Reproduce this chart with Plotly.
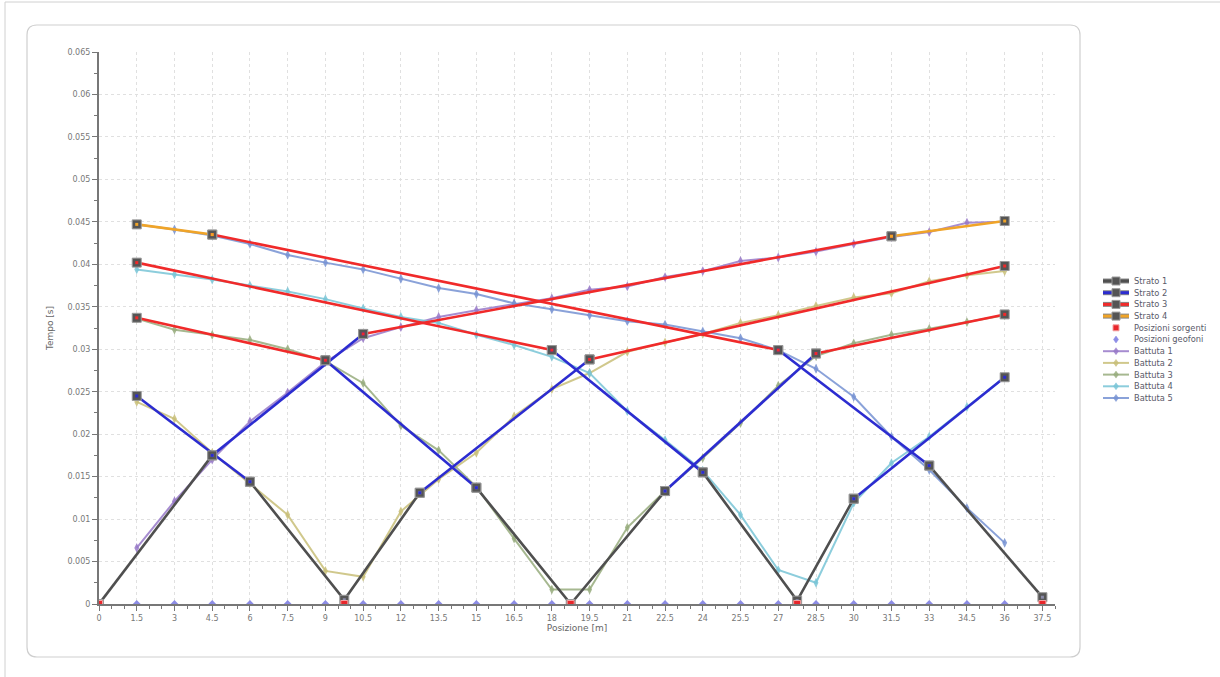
import plotly.graph_objects as go

# ---------------- data ----------------
geophones = [1.5, 3, 4.5, 6, 7.5, 9, 10.5, 12, 13.5, 15, 16.5, 18, 19.5, 21, 22.5,
             24, 25.5, 27, 28.5, 30, 31.5, 33, 34.5, 36]
sources = [0, 9.75, 18.75, 27.75, 37.5]

battuta_names = ["Battuta 1", "Battuta 2", "Battuta 3", "Battuta 4", "Battuta 5"]
battuta_1 = [0.0066, 0.0121, 0.0170, 0.0215, 0.0249, 0.0285, 0.0313, 0.0326, 0.0338, 0.0346,
             0.0353, 0.0360, 0.0370, 0.0374, 0.0385, 0.0392, 0.0404, 0.0408, 0.0415, 0.0424,
             0.0432, 0.0438, 0.0449, 0.0450]
battuta_2 = [0.0238, 0.0218, 0.0178, 0.0142, 0.0105, 0.0039, 0.0032, 0.0109, 0.0147, 0.0178,
             0.0221, 0.0253, 0.0272, 0.0297, 0.0308, 0.0318, 0.0331, 0.0340, 0.0351, 0.0361,
             0.0366, 0.0380, 0.0387, 0.0392]
battuta_3 = [0.0336, 0.0323, 0.0317, 0.0311, 0.0300, 0.0286, 0.0260, 0.0210, 0.0181, 0.0138,
             0.0077, 0.0017, 0.0017, 0.0090, 0.0133, 0.0172, 0.0213, 0.0257, 0.0292, 0.0307,
             0.0317, 0.0324, 0.0332, 0.0340]
battuta_4 = [0.0394, 0.0388, 0.0382, 0.0375, 0.0368, 0.0359, 0.0348, 0.0338, 0.0331, 0.0317,
             0.0305, 0.0291, 0.0272, 0.0227, 0.0193, 0.0157, 0.0105, 0.0040, 0.0025, 0.0119,
             0.0166, 0.0197, 0.0232, 0.0267]
battuta_5 = [0.0447, 0.0441, 0.0434, 0.0424, 0.0411, 0.0402, 0.0394, 0.0383, 0.0372, 0.0365,
             0.0354, 0.0347, 0.0340, 0.0333, 0.0329, 0.0321, 0.0313, 0.0299, 0.0277, 0.0244,
             0.0197, 0.0158, 0.0113, 0.0072]

# strata: segments separated by None
strato_names = ["Strato 1", "Strato 2", "Strato 3", "Strato 4"]
strato1_x = [0, 4.5, None, 6, 9.75, 12.75, None, 15, 18.75, 22.5, None, 24, 27.75, 30, None, 33, 37.5]
strato1_y = [0, 0.0175, None, 0.0144, 0.0005, 0.0131, None, 0.0137, 0, 0.0133, None,
             0.0155, 0.0004, 0.0124, None, 0.0163, 0.0008]
strato2_x = [4.5, 10.5, None, 6, 1.5, None, 12.75, 19.5, None, 15, 9, None, 22.5, 28.5, None,
             24, 18, None, 30, 36, None, 33, 27]
strato2_y = [0.0175, 0.0318, None, 0.0144, 0.0245, None, 0.0131, 0.0288, None, 0.0137, 0.0287,
             None, 0.0133, 0.0295, None, 0.0155, 0.0299, None, 0.0124, 0.0267, None, 0.0163, 0.0299]
strato3_x = [10.5, 31.5, None, 19.5, 36, None, 9, 1.5, None, 28.5, 36, None, 18, 1.5, None, 27, 4.5]
strato3_y = [0.0318, 0.0433, None, 0.0288, 0.0398, None, 0.0287, 0.0337, None, 0.0295, 0.0341,
             None, 0.0299, 0.0402, None, 0.0299, 0.0435]
strato4_x = [31.5, 36, None, 4.5, 1.5]
strato4_y = [0.0433, 0.0451, None, 0.0435, 0.0447]

x_tick_vals = [0, 1.5, 3, 4.5, 6, 7.5, 9, 10.5, 12, 13.5, 15, 16.5, 18, 19.5, 21, 22.5, 24,
               25.5, 27, 28.5, 30, 31.5, 33, 34.5, 36, 37.5]
x_tick_text = ["0", "1.5", "3", "4.5", "6", "7.5", "9", "10.5", "12", "13.5", "15", "16.5",
               "18", "19.5", "21", "22.5", "24", "25.5", "27", "28.5", "30", "31.5", "33",
               "34.5", "36", "37.5"]
y_tick_vals = [0, 0.005, 0.01, 0.015, 0.02, 0.025, 0.03, 0.035, 0.04, 0.045, 0.05, 0.055, 0.06, 0.065]
y_tick_text = ["0", "0.005", "0.01", "0.015", "0.02", "0.025", "0.03", "0.035", "0.04",
               "0.045", "0.05", "0.055", "0.06", "0.065"]

legend_labels = ["Strato 1", "Strato 2", "Strato 3", "Strato 4", "Posizioni sorgenti",
                 "Posizioni geofoni", "Battuta 1", "Battuta 2", "Battuta 3", "Battuta 4", "Battuta 5"]

# ---------------- styles ----------------
strato_colors = ["#4f4f4f", "#2c2cd0", "#f02a2a", "#f0a428"]
battuta_colors = ["rgba(150,120,200,0.85)", "rgba(200,190,120,0.85)", "rgba(150,172,125,0.85)",
                  "rgba(120,196,214,0.85)", "rgba(118,146,210,0.85)"]
source_color = "#e8262b"
geo_color = "#8c8ce6"

fig = go.Figure()

battute = [battuta_1, battuta_2, battuta_3, battuta_4, battuta_5]
for i, (name, ys) in enumerate(zip(battuta_names, battute)):
    fig.add_trace(go.Scatter(
        x=geophones, y=ys, name=name, mode="lines+markers", showlegend=False,
        line=dict(color=battuta_colors[i], width=2),
        marker=dict(symbol="diamond-tall", size=7, color=battuta_colors[i]),
    ))

strata = [(strato1_x, strato1_y), (strato2_x, strato2_y), (strato3_x, strato3_y), (strato4_x, strato4_y)]
for i, (name, (xs, ys)) in enumerate(zip(strato_names, strata)):
    fig.add_trace(go.Scatter(
        x=xs, y=ys, name=name, mode="lines+markers", showlegend=False,
        line=dict(color=strato_colors[i], width=2.6),
        marker=dict(symbol="square", size=9, color="#555555", line=dict(color="#9a9a9a", width=1)),
    ))
for i, (xs, ys) in enumerate(strata):
    fig.add_trace(go.Scatter(
        x=xs, y=ys, mode="markers", showlegend=False, hoverinfo="skip",
        marker=dict(symbol="square", size=3, color=strato_colors[i] if i else "#8a8aa8"),
    ))

fig.add_trace(go.Scatter(
    x=sources, y=[0] * len(sources), name="Posizioni sorgenti", mode="markers", showlegend=False,
    marker=dict(symbol="square", size=7, color=source_color, line=dict(color="#f3a0a0", width=1)),
))
fig.add_trace(go.Scatter(
    x=geophones, y=[0] * len(geophones), name="Posizioni geofoni", mode="markers", showlegend=False,
    marker=dict(symbol="diamond", size=6, color=geo_color),
))

# ---------------- layout ----------------
L, R, T, B = 99, 1055, 52, 604
W, H = R - L, B - T


def px(x):
    return (x - L) / W


def py(y):
    return (B - y) / H


x0, x1, y0, y1, r = 27, 1080, 25, 657, 10
path = (f"M {px(x0 + r)},{py(y0)} L {px(x1 - r)},{py(y0)} Q {px(x1)},{py(y0)} {px(x1)},{py(y0 + r)} "
        f"L {px(x1)},{py(y1 - r)} Q {px(x1)},{py(y1)} {px(x1 - r)},{py(y1)} "
        f"L {px(x0 + r)},{py(y1)} Q {px(x0)},{py(y1)} {px(x0)},{py(y1 - r)} "
        f"L {px(x0)},{py(y0 + r)} Q {px(x0)},{py(y0)} {px(x0 + r)},{py(y0)} Z")

shapes = [
    dict(type="path", xref="paper", yref="paper", path=path,
         line=dict(color="#cfcfcf", width=1.2), layer="below"),
    dict(type="line", xref="paper", yref="paper", x0=px(5), x1=px(1220), y0=py(2), y1=py(2),
         line=dict(color="#d0d0d0", width=1)),
    dict(type="line", xref="paper", yref="paper", x0=px(5), x1=px(5), y0=py(2), y1=py(677),
         line=dict(color="#d0d0d0", width=1)),
]
annotations = []

# ---- compact legend (drawn manually) ----
leg_x0, leg_x1, leg_cx, leg_tx = 1103, 1129, 1116, 1132
leg_top, leg_step = 281, 11.7
for k, label in enumerate(legend_labels):
    yc = leg_top + k * leg_step
    if k < 4:
        col = strato_colors[k]
        shapes.append(dict(type="line", xref="paper", yref="paper", x0=px(leg_x0), x1=px(leg_x1),
                           y0=py(yc), y1=py(yc), line=dict(color="#888888", width=5)))
        shapes.append(dict(type="line", xref="paper", yref="paper", x0=px(leg_x0), x1=px(leg_x1),
                           y0=py(yc), y1=py(yc), line=dict(color=col, width=3)))
        shapes.append(dict(type="rect", xref="paper", yref="paper", x0=px(leg_cx - 4), x1=px(leg_cx + 4),
                           y0=py(yc - 4), y1=py(yc + 4), fillcolor="#555555",
                           line=dict(color="#9a9a9a", width=1)))
    elif k == 4:
        shapes.append(dict(type="rect", xref="paper", yref="paper", x0=px(leg_cx - 3), x1=px(leg_cx + 3),
                           y0=py(yc - 3), y1=py(yc + 3), fillcolor=source_color,
                           line=dict(color="#f3a0a0", width=1)))
    else:
        col = geo_color if k == 5 else battuta_colors[k - 6]
        if k > 5:
            shapes.append(dict(type="line", xref="paper", yref="paper", x0=px(leg_x0), x1=px(leg_x1),
                               y0=py(yc), y1=py(yc), line=dict(color=col, width=2)))
        d = 3.5
        shapes.append(dict(type="path", xref="paper", yref="paper",
                           path=(f"M {px(leg_cx)},{py(yc - d)} L {px(leg_cx + 2.5)},{py(yc)} "
                                 f"L {px(leg_cx)},{py(yc + d)} L {px(leg_cx - 2.5)},{py(yc)} Z"),
                           fillcolor=col, line=dict(color=col, width=0.5)))
    annotations.append(dict(text=label, xref="paper", yref="paper", x=px(leg_tx), y=py(yc),
                            xanchor="left", yanchor="middle", showarrow=False,
                            font=dict(size=8.3, color="#5a5a6a")))

fig.update_layout(
    width=1220, height=677,
    margin=dict(l=L, r=1220 - R, t=T, b=677 - B),
    paper_bgcolor="white", plot_bgcolor="white",
    font=dict(family="DejaVu Sans", size=9, color="#666666"),
    showlegend=False,
    shapes=shapes,
    annotations=annotations,
)

fig.update_xaxes(
    range=[0, 38], tickvals=x_tick_vals, ticktext=x_tick_text,
    showline=True, linecolor="#777777", linewidth=2,
    ticks="outside", ticklen=5, tickcolor="#777777", tickwidth=1,
    minor=dict(dtick=0.5, ticks="outside", ticklen=3, tickcolor="#777777", showgrid=False),
    showgrid=True, gridcolor="#e0e0e0", griddash="dot", gridwidth=1,
    zeroline=False, tickfont=dict(size=8, color="#777777"),
    title=dict(text="Posizione [m]", font=dict(size=9, color="#666666"), standoff=2),
)
fig.update_yaxes(
    range=[0, 0.065], tickvals=y_tick_vals, ticktext=y_tick_text,
    showline=True, linecolor="#777777", linewidth=2,
    ticks="outside", ticklen=5, tickcolor="#777777", tickwidth=1,
    minor=dict(dtick=0.0025, ticks="outside", ticklen=3, tickcolor="#777777", showgrid=False),
    showgrid=True, gridcolor="#e0e0e0", griddash="dot", gridwidth=1,
    zeroline=False, tickfont=dict(size=8, color="#777777"),
    title=dict(text="Tempo [s]", font=dict(size=9, color="#666666"), standoff=12),
)

fig.write_html("out.html", config={"displayModeBar": False},
               post_script="document.body.style.margin='0px';")
